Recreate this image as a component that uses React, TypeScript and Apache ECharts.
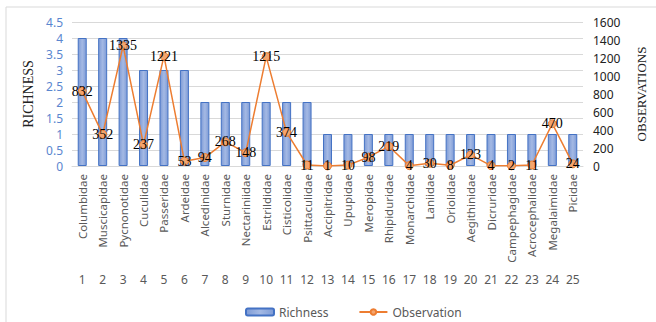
import React, { useEffect, useRef } from "react";
import * as echarts from "echarts";

const families = [
  "Columbidae", "Muscicapidae", "Pycnonotidae", "Cuculidae", "Passeridae",
  "Ardeidae", "Alcedinidae", "Sturnidae", "Nectariniidae", "Estrildidae",
  "Cisticolidae", "Psittaculidae", "Accipitridae", "Upupidae", "Meropidae",
  "Rhipiduridae", "Monarchidae", "Laniidae", "Oriolidae", "Aegithinidae",
  "Dicruridae", "Campephagidae", "Acrocephalidae", "Megalaimidae", "Picidae",
];
const ranks = families.map((_, i) => String(i + 1));
const richness = [4, 4, 4, 3, 3, 3, 2, 2, 2, 2, 2, 2, 1, 1, 1, 1, 1, 1, 1, 1, 1, 1, 1, 1, 1];
const observations = [832, 352, 1335, 237, 1221, 53, 94, 268, 148, 1215, 374, 11, 1, 10, 98, 219, 4, 30, 8, 123, 4, 2, 11, 470, 24];

const sans = "'Noto Sans', 'Open Sans', sans-serif";
const serif = "'Liberation Serif', 'DejaVu Serif', serif";

export default function App() {
  const ref = useRef<HTMLDivElement>(null);
  useEffect(() => {
    const chart = echarts.init(ref.current!, null, { renderer: "svg" });
    chart.setOption({
      animation: false,
      backgroundColor: "#fff",
      graphic: [
        {
          type: "rect",
          shape: { x: 6, y: 7, width: 700, height: 400 },
          style: { fill: "none", stroke: "#d9d9d9", lineWidth: 1 },
          silent: true,
        },
      ],
      grid: { left: 72, right: 68, top: 22, bottom: 156 },
      legend: {
        left: 240,
        top: 301,
        itemWidth: 28,
        itemHeight: 7,
        itemGap: 30,
        textStyle: { color: "#595959", fontSize: 12, fontFamily: sans },
        data: ["Richness", "Observation"],
      },
      xAxis: [
        {
          type: "category",
          data: families,
          axisLine: { lineStyle: { color: "#d9d9d9" } },
          axisTick: { length: 124, lineStyle: { color: "#d9d9d9" } },
          axisLabel: {
            interval: 0,
            rotate: 90,
            margin: 8,
            fontSize: 11.5,
            color: "#595959",
            fontFamily: sans,
          },
        },
        {
          type: "category",
          data: ranks,
          position: "bottom",
          offset: 99,
          axisLine: { show: false },
          axisTick: { show: false },
          axisLabel: {
            interval: 0,
            fontSize: 12,
            color: "#595959",
            fontFamily: sans,
          },
        },
      ],
      yAxis: [
        {
          type: "value",
          min: 0,
          max: 4.5,
          interval: 0.5,
          name: "RICHNESS",
          nameLocation: "middle",
          nameRotate: 90,
          nameGap: 34,
          nameTextStyle: { color: "#222", fontSize: 14, fontFamily: serif },
          axisLine: { show: false },
          axisTick: { show: false },
          axisLabel: { margin: 9, color: "#5A86CF", fontSize: 12, fontFamily: sans },
          splitLine: { lineStyle: { color: "#d9d9d9" } },
        },
        {
          type: "value",
          min: 0,
          max: 1600,
          interval: 200,
          position: "right",
          name: "OBSERVATIONS",
          nameLocation: "middle",
          nameRotate: 90,
          nameGap: 52,
          nameTextStyle: { color: "#222", fontSize: 13, fontFamily: serif },
          axisLine: { show: false },
          axisTick: { show: false },
          axisLabel: {
            margin: 10,
            color: "#222",
            fontSize: 12,
            fontFamily: sans,
            formatter: (v: number) => String(v),
          },
          splitLine: { show: false },
        },
      ],
      series: [
        {
          name: "Richness",
          type: "bar",
          xAxisIndex: 0,
          yAxisIndex: 0,
          barWidth: 9,
          data: richness,
          itemStyle: {
            color: new echarts.graphic.LinearGradient(0, 0, 1, 0, [
              { offset: 0, color: "#7E9BD6" },
              { offset: 0.5, color: "#A4B9E4" },
              { offset: 1, color: "#7E9BD6" },
            ]),
            borderColor: "#4472C4",
            borderWidth: 1,
          },
        },
        {
          name: "Observation",
          type: "line",
          xAxisIndex: 0,
          yAxisIndex: 1,
          data: observations,
          symbol: "circle",
          symbolSize: 8,
          lineStyle: { color: "#ED7D31", width: 1.5 },
          itemStyle: { color: "#F4A56E", borderColor: "#ED7D31", borderWidth: 1 },
          label: {
            show: true,
            position: "inside",
            color: "#000",
            fontSize: 14,
            fontFamily: serif,
          },
          z: 5,
        },
      ],
    });
    return () => chart.dispose();
  }, []);
  return (
    <div
      ref={ref}
      style={{ position: "fixed", left: 0, top: 0, width: 656, height: 322 }}
    />
  );
}
